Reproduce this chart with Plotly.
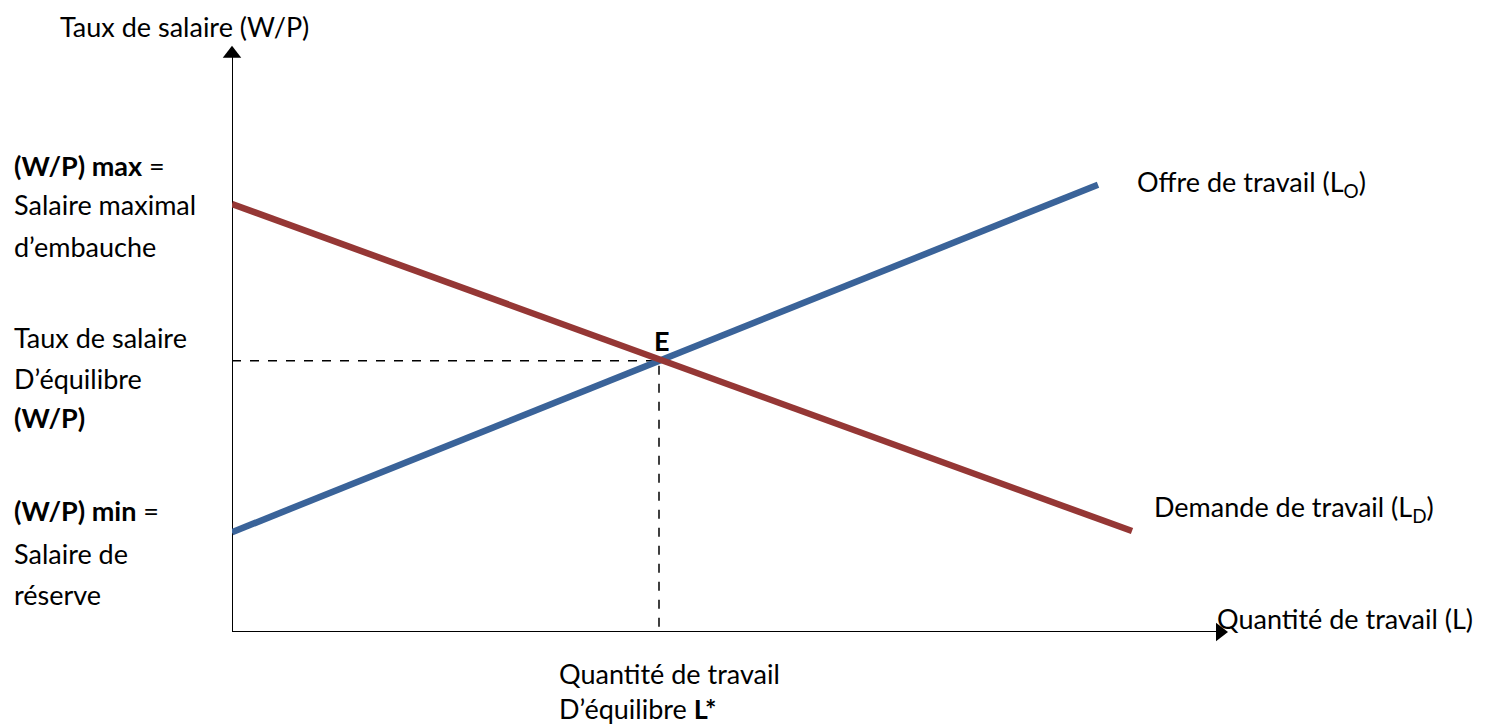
import plotly.graph_objects as go

# ---- data (abstract units: L on x, W/P on y) ----
supply_L = [0, 86.6]
supply_W = [17.0, 76.2]
demand_L = [0, 90.0]
demand_W = [72.9, 17.2]
eq_L = 42.7
eq_W = 46.2
axis_L_max = 99.3
axis_W_max = 100.0
arrow_L = 98.8   # centre of x-axis arrowhead
arrow_W = 98.5   # centre of y-axis arrowhead

OFF = 8  # page body margin
W, H = 1493 - OFF, 727 - OFF
ML, MT = 232 - OFF, 45 - OFF
MR = W - (1225 - OFF)
MB = H - (632 - OFF)
PW, PH = W - ML - MR, H - MT - MB

def px(x):
    return (x - OFF - ML) / PW

def py(y):
    return (H - MB - (y - OFF)) / PH

FONT = "Lato"
FS = 27
BLUE = "#3A6399"
RED = "#953735"

fig = go.Figure()
# axes
fig.add_trace(go.Scatter(x=[0, arrow_L], y=[0, 0], mode="lines",
                         line=dict(color="black", width=2), showlegend=False, hoverinfo="skip",
                         cliponaxis=False))
fig.add_trace(go.Scatter(x=[0, 0], y=[0, arrow_W], mode="lines",
                         line=dict(color="black", width=2), showlegend=False, hoverinfo="skip",
                         cliponaxis=False))
fig.add_trace(go.Scatter(x=[arrow_L], y=[0], mode="markers",
                         marker=dict(symbol="triangle-right", size=16, color="black",
                                     line=dict(width=0)),
                         showlegend=False, hoverinfo="skip", cliponaxis=False))
fig.add_trace(go.Scatter(x=[0], y=[arrow_W], mode="markers",
                         marker=dict(symbol="triangle-up", size=16, color="black",
                                     line=dict(width=0)),
                         showlegend=False, hoverinfo="skip", cliponaxis=False))
# dashed guides
fig.add_trace(go.Scatter(x=[0, eq_L, eq_L], y=[eq_W, eq_W, 0], mode="lines",
                         line=dict(color="black", width=1.5, dash="dash"),
                         showlegend=False, hoverinfo="skip"))
# curves (demand drawn on top)
fig.add_trace(go.Scatter(x=supply_L, y=supply_W, mode="lines",
                         line=dict(color=BLUE, width=6.5), showlegend=False, hoverinfo="skip"))
fig.add_trace(go.Scatter(x=demand_L, y=demand_W, mode="lines",
                         line=dict(color=RED, width=6.5), showlegend=False, hoverinfo="skip"))

def txt(s, x, y, xanchor="left", yanchor="middle", size=FS):
    fig.add_annotation(text=s, x=px(x), y=py(y), xref="paper", yref="paper",
                       xanchor=xanchor, yanchor=yanchor, showarrow=False, align="left",
                       font=dict(family=FONT, size=size, color="black"))

txt("Taux de salaire (W/P)", 58, 27)
txt("<b>(W/P) max</b> =", 12, 165)
txt("Salaire maximal", 12, 204)
txt("d’embauche", 12, 246)
txt("Taux de salaire", 12, 337)
txt("D’équilibre", 12, 378)
txt("<b>(W/P)</b>", 12, 418)
txt("<b>(W/P) min</b> =", 12, 510)
txt("Salaire de", 12, 553)
txt("réserve", 12, 594)
txt("Offre de travail (L<sub>O</sub>)", 1135, 184)
txt("Demande de travail (L<sub>D</sub>)", 1152, 508)
txt("Quantité de travail (L)", 1215, 618)
txt("<b>E</b>", 652, 340)
txt("Quantité de travail<br>D’équilibre <b>L*</b>", 557, 727, yanchor="bottom")

fig.update_xaxes(range=[0, axis_L_max], visible=False, fixedrange=True)
fig.update_yaxes(range=[0, axis_W_max], visible=False, fixedrange=True)
fig.update_layout(width=W, height=H, autosize=False,
                  margin=dict(l=ML, r=MR, t=MT, b=MB, pad=0),
                  plot_bgcolor="white", paper_bgcolor="white")
fig.write_html("out.html")
